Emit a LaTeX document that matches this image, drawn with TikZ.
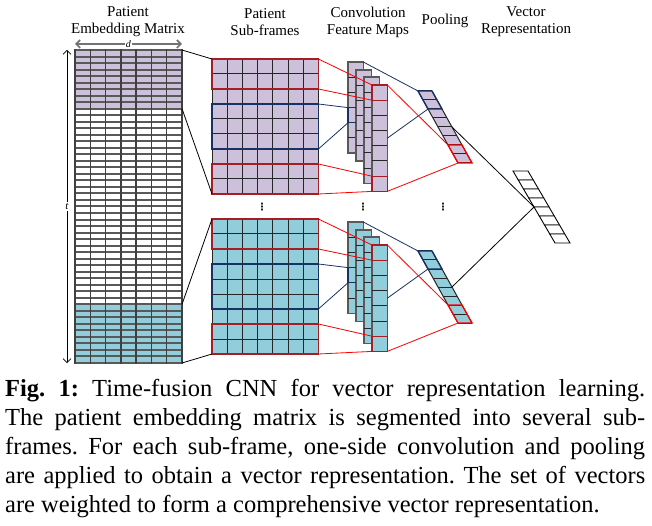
\documentclass[tikz,border=0pt]{standalone}
\usepackage{fontspec}
\setmainfont{Liberation Serif}
\newfontfamily\symfont{DejaVu Sans}
\usetikzlibrary{positioning,arrows.meta}

\definecolor{lavender}{RGB}{204,192,218}
\definecolor{skyblue}{RGB}{146,205,220}
\definecolor{boxred}{RGB}{165,30,35}
\definecolor{boxblue}{RGB}{25,50,100}

\begin{document}
\begin{tikzpicture}[
    x=1pt,
    y=-1pt,
    >={Straight Barb[length=4pt]}
]


\tikzstyle{head}=[
    align=center,
    inner sep=0pt,
    font=\fontsize{15}{17}\selectfont
]
\tikzstyle{block}=[inner sep=0pt, outer sep=0pt, anchor=north west]
\tikzstyle{grid}=[draw=black!85, line width=1pt]
\tikzstyle{fmap}=[draw=black!65, line width=1.4pt]
\tikzstyle{redbox}=[draw=boxred, line width=1.3pt]
\tikzstyle{bluebox}=[draw=boxblue, line width=1.3pt]
\tikzstyle{redline}=[red, line width=0.8pt]
\tikzstyle{blueline}=[boxblue, line width=0.8pt]
\tikzstyle{vecline}=[black, line width=0.8pt]
\tikzstyle{dots}=[inner sep=0pt, font=\symfont\bfseries\fontsize{10}{10}\selectfont]

\useasboundingbox (0,0) rectangle (652,526);


% headings
\node[head] (h-emb) at (128,22) {Patient\\Embedding Matrix};
\node[head] (h-sub) at (265,22) {Patient\\Sub-frames};
\node[head] (h-conv) at (368,22) {Convolution\\Feature Maps};
\node[head] (h-pool) at (445,21) {Pooling};
\node[head] (h-vec) at (526,22) {Vector\\Representation};


% embedding matrix
\node[block, minimum width=107pt, minimum height=313pt] (emb) at (75,50) {};
\node[block, fill=lavender, minimum width=107pt, minimum height=58.7pt] (embtop) at (75,50) {};
\node[block, fill=skyblue, minimum width=107pt, minimum height=58.7pt] (embbot) at (75,304.3) {};
\foreach \r in {0,...,48}
    \draw[black!65, line width=2pt] (75,50+\r*6.5208) -- (182,50+\r*6.5208);
\foreach \c in {0,...,7}
    \draw[black!75, line width=1.4pt] (75+\c*15.286,49) -- (75+\c*15.286,364);

\draw[<->, black!55, line width=1.6pt] ([yshift=6pt]emb.north west) -- node[fill=white, inner sep=1pt, text=black, font=\fontsize{10}{10}\selectfont]{\textit{d}} ([yshift=6pt]emb.north east);
\draw[<->, line width=0.7pt] ([xshift=-8pt]emb.north west) -- node[fill=white, inner sep=1pt, font=\fontsize{11}{11}\selectfont]{\textit{t}} ([xshift=-8pt]emb.south west);


% two sub-frames with their maps and pooling
\foreach \s/\dy/\col in {top/0/lavender, bot/160/skyblue} {

    \node[block, fill=\col, minimum width=106.4pt, minimum height=135pt] (sub\s) at (212,59+\dy) {};
    \foreach \i in {0,...,7}
        \draw[grid] (212+\i*15.2,59+\dy) -- (212+\i*15.2,194+\dy);
    \foreach \j in {0,...,9}
        \draw[grid] (212,59+\dy+\j*15) -- (318.4,59+\dy+\j*15);
    \node[block, redbox, minimum width=106.4pt, minimum height=30pt] (sub\s-r1) at (212,59+\dy) {};
    \node[block, bluebox, minimum width=106.4pt, minimum height=45pt] (sub\s-b) at (212,104+\dy) {};
    \node[block, redbox, minimum width=106.4pt, minimum height=30pt] (sub\s-r2) at (212,164+\dy) {};

    \foreach \k/\x/\y/\n in {1/348/62/6, 2/356/70/6, 3/364/77/7, 4/372/85/7} {
        \pgfmathsetmacro\h{\n*15.2}
        \pgfmathtruncatemacro\m{\n-1}
        \node[block, fmap, fill=\col, minimum width=15.3pt, minimum height=\h pt] (map\s\k) at (\x,\y+\dy) {};
        \foreach \j in {1,...,\m}
            \draw[black!85, line width=1pt] (\x,\y+\dy+\j*15.2) -- (\x+15.3,\y+\dy+\j*15.2);
    }
    \draw[bluebox] (356,107.6+\dy) -- (348,107.6+\dy) -- (348,122.8+\dy) -- (356,122.8+\dy);
    \coordinate (map\s1-bn) at (348,107.6+\dy);
    \coordinate (map\s1-bs) at (348,122.8+\dy);
    \node[block, redbox, minimum width=15.3pt, minimum height=15.2pt] (map\s4-r1) at (372,85+\dy) {};
    \node[block, redbox, minimum width=15.3pt, minimum height=15.2pt] (map\s4-r2) at (372,176.2+\dy) {};

    \fill[\col] (418,91+\dy) -- (432,91+\dy) -- (472,163+\dy) -- (458,163+\dy) -- cycle;
    \foreach \i in {0,...,8}
        \draw[black!85, line width=1pt] (418+5*\i,91+\dy+9*\i) -- (432+5*\i,91+\dy+9*\i);
    \draw[black!85, line width=1pt] (418,91+\dy) -- (458,163+\dy);
    \draw[black!85, line width=1pt] (432,91+\dy) -- (472,163+\dy);
    \draw[bluebox] (418,91+\dy) -- (432,91+\dy) -- (442,109+\dy) -- (428,109+\dy) -- cycle;
    \draw[red, line width=1.2pt] (448,145+\dy) -- (462,145+\dy) -- (472,163+\dy) -- (458,163+\dy) -- cycle;
    \coordinate (pool\s-nw) at (418,91+\dy);
    \coordinate (pool\s-b) at (428,109+\dy);
    \coordinate (pool\s-r) at (448,145+\dy);
    \coordinate (pool\s-sw) at (458,163+\dy);
    \coordinate (pool\s-out) at (452,127+\dy);

    \draw[redline] (sub\s-r1.north east) -- (map\s4-r1.north west);
    \draw[redline] (sub\s-r1.south east) -- (map\s4-r1.south west);
    \draw[redline] (sub\s-r2.north east) -- (map\s4-r2.north west);
    \draw[redline] (sub\s-r2.south east) -- (map\s4-r2.south west);
    \draw[blueline] (sub\s-b.north east) -- (map\s1-bn);
    \draw[blueline] (sub\s-b.south east) -- (map\s1-bs);
    \draw[blueline] (map\s1.north east) -- (pool\s-nw);
    \draw[blueline] (map\s4.east) -- (pool\s-b);
    \draw[redline] (map\s4-r1.north east) -- (pool\s-r);
    \draw[redline] (map\s4-r2.south east) -- (pool\s-sw);
}


% vector representation
\foreach \i in {0,...,7}
    \draw[black, line width=0.9pt, fill=white] (513+5.25*\i,171+9*\i) -- (528+5.25*\i,171+9*\i) -- (533.25+5.25*\i,180+9*\i) -- (518.25+5.25*\i,180+9*\i) -- cycle;
\coordinate (vec-in) at (534,207);

\draw[vecline] (pooltop-out) -- (vec-in);
\draw[vecline] (poolbot-out) -- (vec-in);

\draw[vecline] (embtop.north east) -- (subtop.north west);
\draw[vecline] (embtop.south east) -- (subtop.south west);
\draw[vecline] (embbot.north east) -- (subbot.north west);
\draw[vecline] (embbot.south east) -- (subbot.south west);


\node[dots] (dots-sub) at (262,207) {⋮};
\node[dots] (dots-conv) at (363,207) {⋮};
\node[dots] (dots-pool) at (443,207) {⋮};


% caption
\node[anchor=north west, inner sep=0pt, text width=640pt, align=justify, font=\fontsize{24.5}{29}\selectfont\frenchspacing] (caption) at (5,379) {\textbf{Fig. 1:} Time-fusion CNN for vector representation learning.\linebreak
The patient embedding matrix is segmented into several sub-\linebreak
frames. For each sub-frame, one-side convolution and pooling\linebreak
are applied to obtain a vector representation. The set of vectors\linebreak
are weighted to form a comprehensive vector representation.};

\end{tikzpicture}
\end{document}
